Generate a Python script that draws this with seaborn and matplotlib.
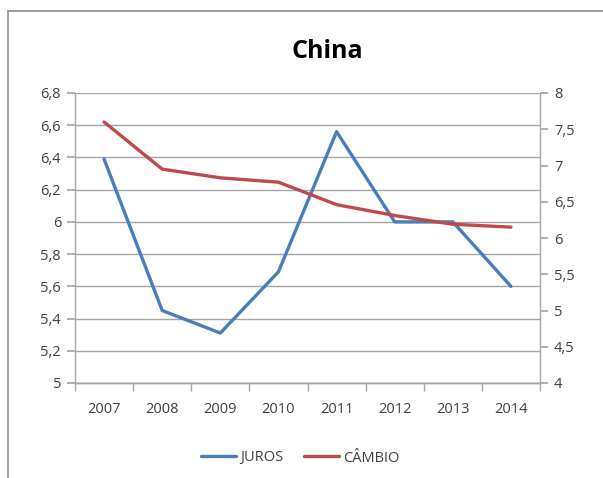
import seaborn as sns
import matplotlib.pyplot as plt
import matplotlib.ticker as mticker
from matplotlib.lines import Line2D
import pandas as pd
import numpy as np

plt.switch_backend('Agg')

# Data
years = ['2007', '2008', '2009', '2010', '2011', '2012', '2013', '2014']
juros = [6.39, 5.45, 5.31, 5.69, 6.56, 6.00, 6.00, 5.60]
cambio = [7.60, 6.95, 6.83, 6.77, 6.46, 6.31, 6.19, 6.15]

BLUE = '#4A7EBB'
RED = '#BE4B48'
GRID = '#A6A6A6'
TEXT = '#404040'

sns.set_theme(style="white")
plt.rcParams['font.family'] = ['Open Sans', 'DejaVu Sans']

df = pd.DataFrame({'idx': np.arange(len(years)), 'juros': juros, 'cambio': cambio})

fig = plt.figure(figsize=(6.03, 4.78), dpi=100)
ax = fig.add_axes([75 / 603, 1 - 383 / 478, 465 / 603, 290 / 478])
ax2 = ax.twinx()

sns.lineplot(data=df, x='idx', y='juros', ax=ax, color=BLUE, linewidth=2.4)
sns.lineplot(data=df, x='idx', y='cambio', ax=ax2, color=RED, linewidth=2.4)

ax.set_xlim(-0.5, len(years) - 0.5)
ax.set_ylim(5, 6.8)
ax2.set_ylim(4, 8)

comma = mticker.FuncFormatter(lambda v, p: ('%g' % round(v, 2)).replace('.', ','))
ax.yaxis.set_major_locator(mticker.MultipleLocator(0.2))
ax2.yaxis.set_major_locator(mticker.MultipleLocator(0.5))
ax.yaxis.set_major_formatter(comma)
ax2.yaxis.set_major_formatter(comma)

ax.set_xticks(range(len(years)))
ax.set_xticklabels(years)
ax.set_xticks(np.arange(-0.5, len(years)), minor=True)
ax.tick_params(axis='x', which='major', length=0, pad=14, labelsize=10.5, labelcolor=TEXT)
ax.tick_params(axis='x', which='minor', length=6, color=GRID, direction='out', bottom=True)
ax.tick_params(axis='y', length=6, color=GRID, direction='out', left=True, pad=4,
               labelsize=10.5, labelcolor=TEXT)
ax2.tick_params(axis='y', length=6, color=GRID, direction='out', right=True, pad=4,
                labelsize=10.5, labelcolor=TEXT)

ax.yaxis.grid(True, color=GRID, linewidth=1)
ax.set_axisbelow(True)
for a in (ax, ax2):
    a.set_xlabel('')
    a.set_ylabel('')
    a.spines['top'].set_visible(False)
    for s in ('left', 'right', 'bottom'):
        a.spines[s].set_color(GRID)
        a.spines[s].set_linewidth(1)
ax2.spines['left'].set_visible(False)
ax.spines['right'].set_visible(False)

fig.text(327 / 603, 1 - 52 / 478, 'China', ha='center', va='center',
         fontsize=18, fontweight='bold', color='black')

handles = [Line2D([], [], color=BLUE, linewidth=2.4),
           Line2D([], [], color=RED, linewidth=2.4)]
fig.legend(handles, ['JUROS', 'CÂMBIO'], loc='center', bbox_to_anchor=(300 / 603, 1 - 458 / 478),
           ncol=2, frameon=False, fontsize=10.5, handlelength=2.4, handletextpad=0.3,
           columnspacing=1.4, labelcolor=TEXT)

# outer chart border (top and left edges visible)
fig.add_artist(Line2D([8 / 603, 1], [1 - 11 / 478, 1 - 11 / 478], color='#8C8C8C', linewidth=1.2))
fig.add_artist(Line2D([8 / 603, 8 / 603], [0, 1 - 11 / 478], color='#8C8C8C', linewidth=1.2))

fig.savefig('out.png', dpi=100)
plt.close(fig)
